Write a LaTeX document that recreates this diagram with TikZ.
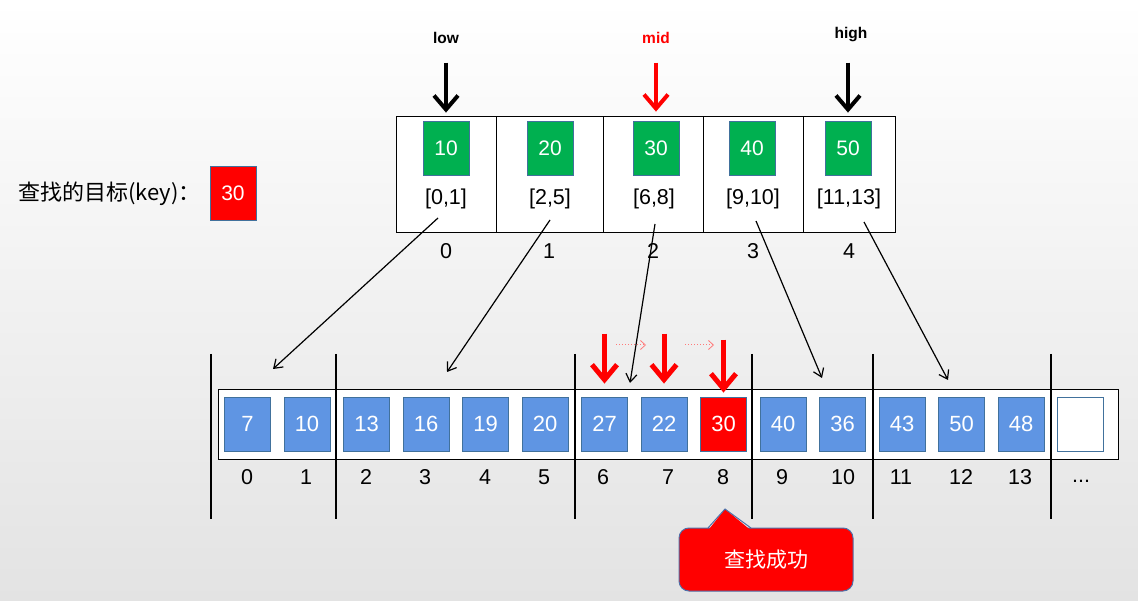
\documentclass[tikz,border=0pt]{standalone}
\usepackage{fontspec}
\setmainfont{Liberation Sans}
\newfontfamily\cjk{Noto Sans CJK SC}
\usetikzlibrary{arrows.meta}
\definecolor{boxgreen}{HTML}{00B050}
\definecolor{boxblue}{HTML}{5F95E3}
\definecolor{boxedge}{HTML}{41719C}
\definecolor{bgbot}{HTML}{E3E3E3}
\definecolor{dotred}{HTML}{FF7A7A}
\definecolor{calloutedge}{HTML}{4F6FA8}
\begin{document}
\begin{tikzpicture}[x=1pt,y=-1pt,
  cell/.style={draw=black, fill=white, line width=0.8pt, minimum height=116pt, inner sep=0},
  gbox/.style={draw=boxedge, fill=boxgreen, minimum width=46pt, minimum height=54pt, inner sep=0, text=white, line width=0.8pt, font=\fontsize{21}{21}\selectfont},
  bbox/.style={draw=boxedge, fill=boxblue, minimum width=46pt, minimum height=54pt, inner sep=0, text=white, line width=0.8pt, font=\fontsize{22}{22}\selectfont},
  rbox/.style={bbox, fill=red},
  ebox/.style={bbox, fill=white},
  num/.style={inner sep=0, font=\fontsize{21.5}{21.5}\selectfont},
  ptr/.style={inner sep=0, font=\fontsize{15.5}{15.5}\selectfont\bfseries},
  bigarrow/.style={line width=4pt, -{Straight Barb[length=14pt, width=24pt, line width=4pt]}},
  redarrow/.style={red, line width=5pt, -{Straight Barb[length=15pt, width=25pt, line width=5pt]}},
  conn/.style={line width=1.2pt, -{Straight Barb[length=8pt, width=11pt, line width=1.2pt]}},
  dotarrow/.style={dotred, line width=1pt, dotted, -{Straight Barb[length=5pt, width=9pt, line width=0.8pt]}},
  sep/.style={line width=2pt},
]
\useasboundingbox (0,0) rectangle (1138,601);
\shade[top color=white, bottom color=bgbot] (0,0) rectangle (1138,601);

% target label
\node[inner sep=0, anchor=west, font=\cjk\fontsize{22}{22}\selectfont] (lbl) at (18,194) {查找的目标(key)：};
\node[rbox, font=\fontsize{21}{21}\selectfont] (key) at (233,193) {30};

% index table
\node[cell, minimum width=100pt] (c0) at (446,174) {};
\node[cell, minimum width=107pt] (c1) at (549.5,174) {};
\node[cell, minimum width=100pt] (c2) at (653,174) {};
\node[cell, minimum width=100pt] (c3) at (753,174) {};
\node[cell, minimum width=92pt] (c4) at (849,174) {};

\node[gbox] (g0) at (446,148) {10};
\node[gbox] (g1) at (550,148) {20};
\node[gbox] (g2) at (656,148) {30};
\node[gbox] (g3) at (752,148) {40};
\node[gbox] (g4) at (848,148) {50};

\node[num] (r0) at (446,199) {[0,1]};
\node[num] (r1) at (550,199) {[2,5]};
\node[num] (r2) at (654,199) {[6,8]};
\node[num] (r3) at (753,199) {[9,10]};
\node[num] (r4) at (849,199) {[11,13]};

\node[num] (i0) at (446,251) {0};
\node[num] (i1) at (549,251) {1};
\node[num] (i2) at (653,251) {2};
\node[num] (i3) at (753,251) {3};
\node[num] (i4) at (849,251) {4};

% pointers
\node[ptr] (low) at (446,38) {low};
\node[ptr, text=red] (mid) at (656,38) {mid};
\node[ptr] (high) at (851,35) {high};
\draw[bigarrow] ([yshift=58pt]g0.north) -- ([yshift=8pt]g0.north);
\draw[bigarrow, red] ([yshift=58pt]g2.north) -- ([yshift=9pt]g2.north);
\draw[bigarrow] ([yshift=58pt]g4.north) -- ([yshift=8pt]g4.north);

% data array
\node[draw=black, fill=white, line width=0.8pt, minimum width=900pt, minimum height=70pt, inner sep=0] (arr) at (668,424) {};
\node[bbox] (b0) at (247.5,424) {7};
\node[bbox] (b1) at (307,424) {10};
\node[bbox] (b2) at (366.5,424) {13};
\node[bbox] (b3) at (426,424) {16};
\node[bbox] (b4) at (485.5,424) {19};
\node[bbox] (b5) at (545,424) {20};
\node[bbox] (b6) at (604.5,424) {27};
\node[bbox] (b7) at (664,424) {22};
\node[rbox] (b8) at (723.5,424) {30};
\node[bbox] (b9) at (783,424) {40};
\node[bbox] (b10) at (842.5,424) {36};
\node[bbox] (b11) at (902,424) {43};
\node[bbox] (b12) at (961.5,424) {50};
\node[bbox] (b13) at (1021,424) {48};
\node[ebox] (b14) at (1080.5,424) {};

\foreach \x/\t [count=\k from 0] in {247/0,306/1,366/2,425/3,485/4,544/5,603/6,668/7,723/8,782/9,843/10,901/11,961/12,1020/13}
  \node[num] (j\k) at (\x,477) {\t};
\node[num] (jdots) at (1081,481) {...};

% group separators
\foreach \x in {211,336,575,752,873,1051}
  \draw[sep] (\x,354) -- (\x,519);

% connectors from index table to blocks
\coordinate (s0) at (438,218);
\coordinate (s1) at (550,220);
\coordinate (s2) at (655,224);
\coordinate (s3) at (756,221);
\coordinate (s4) at (864,222);
\coordinate (e0) at (273,369);
\coordinate (e1) at (447,372);
\coordinate (e2) at (630,383);
\coordinate (e3) at (822,378);
\coordinate (e4) at (948,380);
\foreach \k in {0,...,4}
  \draw[conn] (s\k) -- (e\k);

% search steps
\draw[redarrow] ([yshift=63pt]b6.north) -- ([yshift=13pt]b6.north);
\draw[redarrow] ([yshift=63pt]b7.north) -- ([yshift=13pt]b7.north);
\draw[redarrow] ([yshift=57pt]b8.north) -- ([yshift=4pt]b8.north);
\coordinate (d0) at (616,345);
\coordinate (d1) at (646,345);
\coordinate (d2) at (685,345);
\coordinate (d3) at (714,345);
\draw[dotarrow] (d0) -- (d1);
\draw[dotarrow] (d2) -- (d3);

% callout
\node[draw=calloutedge, fill=red, line width=1pt, rounded corners=10pt, minimum width=174pt, minimum height=63pt, inner sep=0, text=white, font=\cjk\fontsize{21}{21}\selectfont] (ok) at (766,559.5) {查找成功};
\fill[red] (708,530.5) -- (725,509) -- (751,530.5) -- cycle;
\draw[calloutedge, line width=1pt, line join=miter] (708,528) -- (725,509) -- (751,528);
\end{tikzpicture}
\end{document}
